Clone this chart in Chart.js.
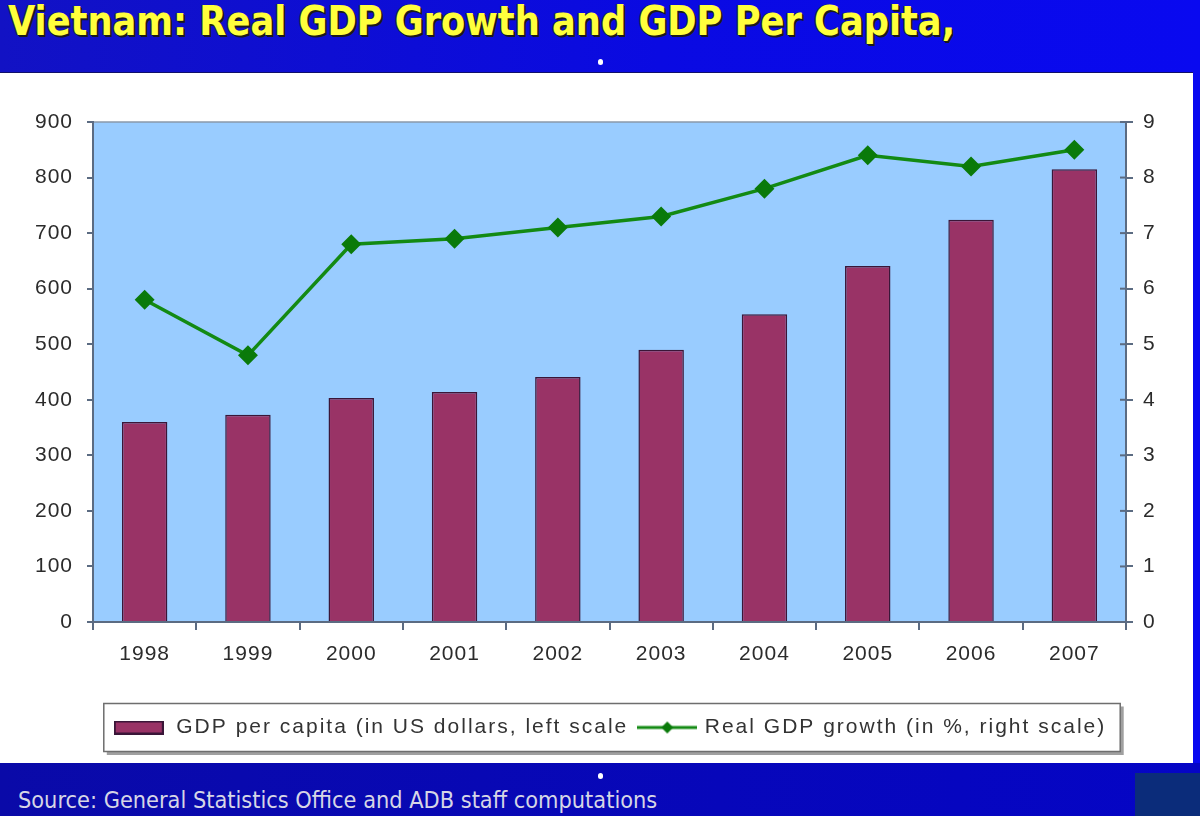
<!DOCTYPE html>
<html>
<head>
<meta charset="utf-8">
<script src="https://cdn.jsdelivr.net/npm/chart.js@4.4.1/dist/chart.umd.min.js"></script>
<style>
  html, body { margin: 0; padding: 0; }
  body {
    width: 1200px; height: 816px; overflow: hidden; position: relative;
    background: linear-gradient(to right, #1212c4 0%, #0a0ae2 55%, #0909f0 100%);
    font-family: "Liberation Sans", Arial, sans-serif;
  }
  #bottom { position: absolute; left: 0; top: 763px; width: 1200px; height: 53px;
    background: linear-gradient(to right, #0a0aa8, #0505c6); }
  #corner { position: absolute; left: 1135px; top: 773px; width: 65px; height: 43px; background: #0b2c7a; }
  #title { position: absolute; left: 8px; top: -3px; display: inline-block; white-space: nowrap;
    font-family: "Liberation Sans Narrow", "DejaVu Sans Condensed", "DejaVu Sans", sans-serif;
    font-weight: bold; font-size: 40px; line-height: 48px; color: #ffff3c;
    text-shadow: 2px 2px 0 #1a1a1a, 1px 1px 0 #1a1a1a, -1px 0 0 #20205a; transform-origin: left top; }
  #source { position: absolute; left: 18px; top: 786px; display: inline-block; white-space: nowrap;
    font-family: "Liberation Sans Narrow", "DejaVu Sans Condensed", "Liberation Sans", sans-serif;
    font-size: 23px; line-height: 28px; color: #d6d6e6; transform-origin: left top; }
  #panel { position: absolute; left: 0; top: 72px; width: 1193px; height: 691px; background: #fff;
    border-top: 1px solid #10106a; box-sizing: border-box; }
  .dot { position: absolute; width: 5px; height: 6px; border-radius: 3px; background: #fff; }
</style>
</head>
<body>
<div id="bottom"></div>
<div id="corner"></div>
<div id="title">Vietnam: Real GDP Growth and GDP Per Capita,</div>
<div class="dot" style="left:598px; top:59px;"></div>
<div id="panel"><canvas id="myChart" width="1193" height="690"></canvas></div>
<div class="dot" style="left:598px; top:773px;"></div>
<div id="source">Source: General Statistics Office and ADB staff computations</div>
<script>
const years = ['1998', '1999', '2000', '2001', '2002', '2003', '2004', '2005', '2006', '2007'];
const gdpPerCapita = [360, 373, 403, 414, 441, 490, 554, 641, 724, 815];
const gdpGrowth = [5.8, 4.8, 6.8, 6.9, 7.1, 7.3, 7.8, 8.4, 8.2, 8.5];
const seriesNames = ['GDP per capita (in US dollars, left scale', 'Real GDP growth (in %, right scale)'];

const barColour = '#993366';
const barEdge = '#3a1638';
const lineColour = '#138a13';
const markerColour = '#0a7a0a';
const axisColour = '#5b6b82';
const textColour = '#2b2b2b';

function fitWidth(id, w) {
  const el = document.getElementById(id);
  el.style.transform = 'scaleX(' + (w / el.offsetWidth) + ')';
}
fitWidth('title', 947);
fitWidth('source', 639);

// legend swatches
function barSwatch() {
  const c = document.createElement('canvas');
  c.width = 50; c.height = 14;
  const g = c.getContext('2d');
  g.fillStyle = barColour;
  g.fillRect(1, 1, 48, 12);
  g.strokeStyle = barEdge;
  g.lineWidth = 2;
  g.strokeRect(1, 1, 48, 12);
  return c;
}
function lineSwatch() {
  const c = document.createElement('canvas');
  c.width = 60; c.height = 16;
  const g = c.getContext('2d');
  g.strokeStyle = lineColour;
  g.lineWidth = 3;
  g.beginPath(); g.moveTo(0, 8); g.lineTo(60, 8); g.stroke();
  g.fillStyle = markerColour;
  g.beginPath(); g.moveTo(30, 2); g.lineTo(36, 8); g.lineTo(30, 14); g.lineTo(24, 8); g.closePath(); g.fill();
  return c;
}

// the reference text is set wide, so space the letters out a little
function withSpacing(ctx, sp, fn) {
  ctx.save();
  ctx.letterSpacing = sp;
  fn();
  ctx.restore();
}

const wideText = {
  id: 'wideText',
  afterInit(chart) {
    const lg = chart.legend;
    const fit = lg.fit, draw = lg.draw;
    lg.fit = function () { withSpacing(chart.ctx, '2px', () => fit.call(lg)); };
    lg.draw = function () { withSpacing(chart.ctx, '2px', () => draw.call(lg)); };
  },
  beforeDraw(chart) {
    chart.ctx.letterSpacing = '1px';
  },
};

const plotBackground = {
  id: 'plotBackground',
  beforeDraw(chart) {
    const {ctx, chartArea: a} = chart;
    ctx.save();
    ctx.fillStyle = '#99ccff';
    ctx.fillRect(a.left, a.top, a.right - a.left, a.bottom - a.top);
    ctx.strokeStyle = '#8a98aa';
    ctx.lineWidth = 1.5;
    ctx.beginPath(); ctx.moveTo(a.left, a.top); ctx.lineTo(a.right, a.top); ctx.stroke();
    ctx.restore();
  },
  afterDraw(chart) {
    const ctx = chart.ctx;
    // inner half of the right axis tick marks
    const s = chart.scales.y1;
    ctx.save();
    ctx.strokeStyle = axisColour;
    ctx.lineWidth = 2;
    s.ticks.forEach(t => {
      const y = s.getPixelForValue(t.value);
      ctx.beginPath(); ctx.moveTo(s.left - 6, y); ctx.lineTo(s.left, y); ctx.stroke();
    });
    // box round the legend
    const hb = chart.legend.legendHitBoxes;
    if (hb && hb.length) {
      const l = Math.min(...hb.map(h => h.left)) - 8;
      const r = Math.max(...hb.map(h => h.left + h.width)) + 14;
      const cy = hb[0].top + hb[0].height / 2;
      const t = cy - 24, b = cy + 24;
      ctx.strokeStyle = '#a0a0a0';
      ctx.lineWidth = 3;
      ctx.beginPath(); ctx.moveTo(l + 3, b + 2); ctx.lineTo(r + 2, b + 2); ctx.lineTo(r + 2, t + 3); ctx.stroke();
      ctx.strokeStyle = '#6e6e6e';
      ctx.lineWidth = 1.5;
      ctx.strokeRect(l, t, r - l, b - t);
    }
    ctx.restore();
  }
};

const ctx = document.getElementById('myChart').getContext('2d');

const myChart = new Chart(ctx, {
  type: 'bar',
  data: {
    labels: years,
    datasets: [{
      label: seriesNames[0],
      data: gdpPerCapita,
      yAxisID: 'y',
      backgroundColor: barColour,
      borderColor: barEdge,
      borderWidth: 1.5,
      barPercentage: 0.44,
      categoryPercentage: 1,
      order: 1,
    }, {
      type: 'line',
      label: seriesNames[1],
      data: gdpGrowth,
      yAxisID: 'y1',
      borderColor: lineColour,
      borderWidth: 3.5,
      pointStyle: 'rectRot',
      pointRadius: 7.5,
      pointBackgroundColor: markerColour,
      pointBorderColor: markerColour,
      tension: 0,
      order: 0,
    }]
  },
  options: {
    responsive: false,
    animation: false,
    devicePixelRatio: 1,
    layout: { padding: { left: 25, right: 0, top: 49, bottom: 15 } },
    scales: {
      x: {
        offset: true,
        grid: { offset: true, drawOnChartArea: false, drawTicks: true, tickLength: 8, color: axisColour, lineWidth: 2 },
        border: { color: axisColour, width: 2 },
        ticks: { color: textColour, font: { family: 'Liberation Sans', size: 21 }, padding: 12, maxRotation: 0 },
        afterFit: (scale) => { scale.height = 83; },
      },
      y: {
        position: 'left',
        min: 0, max: 900,
        grid: { drawOnChartArea: false, tickLength: 6, color: axisColour, lineWidth: 2 },
        border: { color: axisColour, width: 2 },
        ticks: { stepSize: 100, color: textColour, font: { family: 'Liberation Sans', size: 21 }, padding: 14 },
        afterFit: (scale) => { scale.width = 68; },
      },
      y1: {
        position: 'right',
        min: 0, max: 9,
        grid: { drawOnChartArea: false, tickLength: 7, color: axisColour, lineWidth: 2 },
        border: { color: axisColour, width: 2 },
        ticks: { stepSize: 1, color: textColour, font: { family: 'Liberation Sans', size: 21 }, padding: 10 },
        afterFit: (scale) => { scale.width = 67; },
      },
    },
    plugins: {
      tooltip: { enabled: false },
      legend: {
        position: 'bottom',
        labels: {
          usePointStyle: true,
          pointStyleWidth: 54,
          padding: 12,
          color: '#333333',
          font: { family: 'Liberation Sans', size: 21 },
          generateLabels: (chart) => [
            { text: seriesNames[0], pointStyle: barSwatch(), datasetIndex: 0, hidden: false, fontColor: '#333333', lineWidth: 0 },
            { text: seriesNames[1], pointStyle: lineSwatch(), datasetIndex: 1, hidden: false, fontColor: '#333333', lineWidth: 0 },
          ],
        },
      },
    },
  },
  plugins: [wideText, plotBackground],
});
</script>
</body>
</html>
